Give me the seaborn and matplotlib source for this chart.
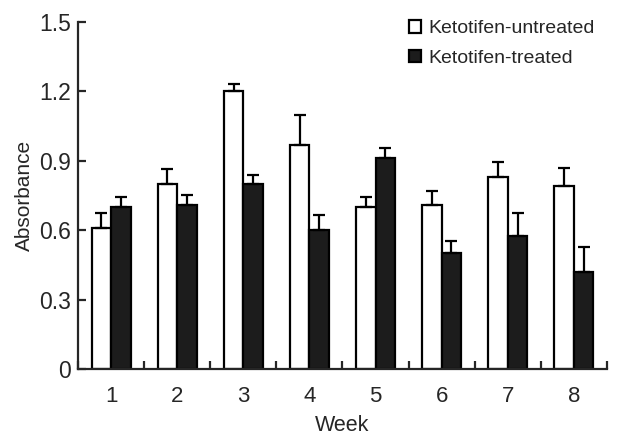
import matplotlib
matplotlib.use("Agg")
from matplotlib import pyplot as plt
import pandas as pd
import seaborn as sns

weeks = ["1", "2", "3", "4", "5", "6", "7", "8"]
groups = ["Ketotifen-untreated", "Ketotifen-treated"]
untreated = [0.61, 0.80, 1.20, 0.97, 0.70, 0.71, 0.83, 0.79]
untreated_err = [0.065, 0.065, 0.032, 0.13, 0.044, 0.06, 0.065, 0.08]
treated = [0.70, 0.71, 0.80, 0.60, 0.91, 0.50, 0.575, 0.42]
treated_err = [0.044, 0.043, 0.04, 0.065, 0.047, 0.053, 0.10, 0.108]
y_ticks = [0, 0.3, 0.6, 0.9, 1.2, 1.5]
y_labels = ["0", "0.3", "0.6", "0.9", "1.2", "1.5"]

sns.set_style("ticks")
plt.rcParams["font.family"] = ["Liberation Sans", "DejaVu Sans"]

df = pd.DataFrame({
    "Week": weeks * 2,
    "Group": [groups[0]] * len(weeks) + [groups[1]] * len(weeks),
    "Absorbance": untreated + treated,
    "err": untreated_err + treated_err,
})

fig = plt.figure(figsize=(6.17, 4.40), dpi=100)
ax = fig.add_axes([0.1264, 0.1614, 0.8574, 0.7886])

sns.barplot(data=df, x="Week", y="Absorbance", hue="Group",
            palette=["white", "#1c1c1c"], edgecolor="black", linewidth=1.6,
            width=0.59, errorbar=None, ax=ax)

# upward-only error bars centred on each bar
for container, errs in zip(ax.containers, [untreated_err, treated_err]):
    for bar, e in zip(container, errs):
        x = bar.get_x() + bar.get_width() / 2
        h = bar.get_height()
        ax.errorbar(x, h, yerr=[[0], [e]], fmt="none", ecolor="black",
                    elinewidth=1.6, capsize=4, capthick=1.6, zorder=3)

ax.set_xlim(-0.5, 7.5)
ax.set_ylim(0, 1.5)
ax.set_yticks(y_ticks)
ax.set_yticklabels(y_labels)
ax.set_xticks(range(len(weeks)))
ax.set_xticks([i + 0.5 for i in range(-1, len(weeks))], minor=True)
ax.tick_params(axis="x", which="major", length=0, pad=12, labelsize=16)
ax.tick_params(axis="x", which="minor", direction="in", length=6, width=1.6)
ax.tick_params(axis="y", direction="in", length=6, width=1.6, pad=5, labelsize=16.5)
for s in ["top", "right"]:
    ax.spines[s].set_visible(False)
for s in ["left", "bottom"]:
    ax.spines[s].set_linewidth(1.6)

ax.set_xlabel("Week", fontsize=15.5, labelpad=6)
ax.set_ylabel("Absorbance", fontsize=15, labelpad=4)

ax.legend(loc="upper right", bbox_to_anchor=(1.01, 1.055), frameon=False,
          fontsize=14, handlelength=0.6, handleheight=0.6,
          handletextpad=0.4, labelspacing=0.65)

plt.savefig("out.png", dpi=100)
plt.close()
